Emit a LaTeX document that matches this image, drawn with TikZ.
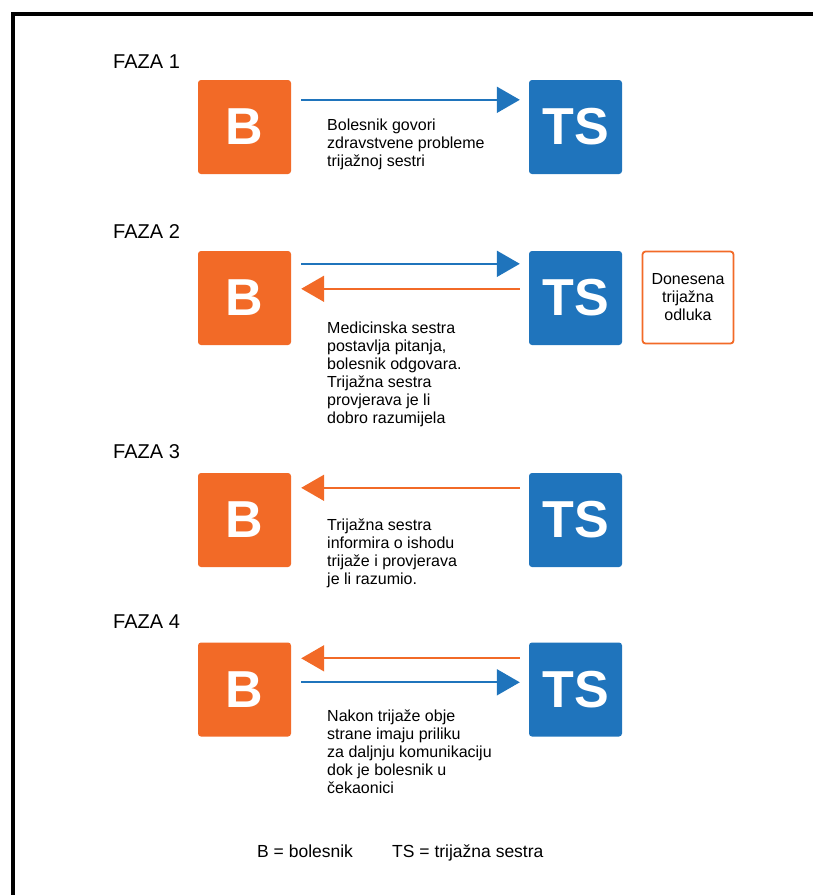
\documentclass[tikz,border=0pt]{standalone}
\usepackage{fontspec}
\setmainfont{Liberation Sans}
\usepackage{xcolor}
\usetikzlibrary{arrows.meta}
\definecolor{bolorange}{RGB}{242,106,39}
\definecolor{tsblue}{RGB}{31,116,188}
\tikzset{letterbox/.style={rounded corners=3pt,minimum width=93pt,minimum height=94pt,inner sep=0pt,text=white,font=\fontsize{52}{52}\selectfont\bfseries},
  bbox/.style={letterbox,fill=bolorange},
  tsbox/.style={letterbox,fill=tsblue},
  phaselabel/.style={anchor=base west,inner sep=0pt,font=\fontsize{20}{24}\selectfont},
  note/.style={anchor=north west,inner sep=0pt,align=left,font=\fontsize{16}{18}\selectfont},
  legend/.style={anchor=base west,inner sep=0pt,font=\fontsize{17.5}{20}\selectfont},
  toTS/.style={draw=tsblue,line width=2pt,-{Triangle[length=23pt,width=26pt]}},
  toB/.style={draw=bolorange,line width=2pt,-{Triangle[length=23pt,width=26pt]}}}

\begin{document}
\begin{tikzpicture}[x=1pt,y=-1pt]
    \useasboundingbox (0,0) rectangle (813,895);
    \clip (0,0) rectangle (813,895);
    \draw[line width=4pt] (13,14) rectangle (840,920);

    \foreach \n/\y/\ly in {1/127/68,2/298/238,3/520/458,4/689.5/628} {
      \node[bbox] (B\n) at (244.5,\y) {B};
      \node[tsbox] (TS\n) at (575.5,\y) {TS};
      \node[phaselabel] (faza\n) at (113,\ly) {FAZA \n};
    }

    % faza 1
    \draw[toTS] ([xshift=10pt,yshift=-20pt]B1.north east) -- ([xshift=-9pt,yshift=-20pt]TS1.north west);
    \node[note] (txt1) at (327,119) {Bolesnik govori\\zdravstvene probleme\\trijažnoj sestri};

    % faza 2
    \draw[toTS] ([xshift=10pt,yshift=-13pt]B2.north east) -- ([xshift=-9pt,yshift=-13pt]TS2.north west);
    \draw[toB] ([xshift=-9pt,yshift=-38pt]TS2.north west) -- ([xshift=10pt,yshift=-38pt]B2.north east);
    \node[note] (txt2) at (327,321.5) {Medicinska sestra\\postavlja pitanja,\\bolesnik odgovara.\\Trijažna sestra\\provjerava je li\\dobro razumijela};
    \node[draw=bolorange,line width=1.8pt,rounded corners=3pt,minimum width=91pt,minimum height=92pt,
      align=center,font=\fontsize{16}{18}\selectfont] (odluka) at (688,297.5) {Donesena\\trijažna\\odluka};

    % faza 3
    \draw[toB] ([xshift=-9pt,yshift=-15pt]TS3.north west) -- ([xshift=10pt,yshift=-15pt]B3.north east);
    \node[note] (txt3) at (327,519) {Trijažna sestra\\informira o ishodu\\trijaže i provjerava\\je li razumio.};

    % faza 4
    \draw[toB] ([xshift=-9pt,yshift=-16pt]TS4.north west) -- ([xshift=10pt,yshift=-16pt]B4.north east);
    \draw[toTS] ([xshift=10pt,yshift=-40pt]B4.north east) -- ([xshift=-9pt,yshift=-40pt]TS4.north west);
    \node[note] (txt4) at (327,710) {Nakon trijaže obje\\strane imaju priliku\\za daljnju komunikaciju\\dok je bolesnik u\\čekaonici};

    \node[legend] (legB) at (257,857) {B = bolesnik};
    \node[legend] (legTS) at (392,857) {TS = trijažna sestra};
  \end{tikzpicture}
\end{document}
